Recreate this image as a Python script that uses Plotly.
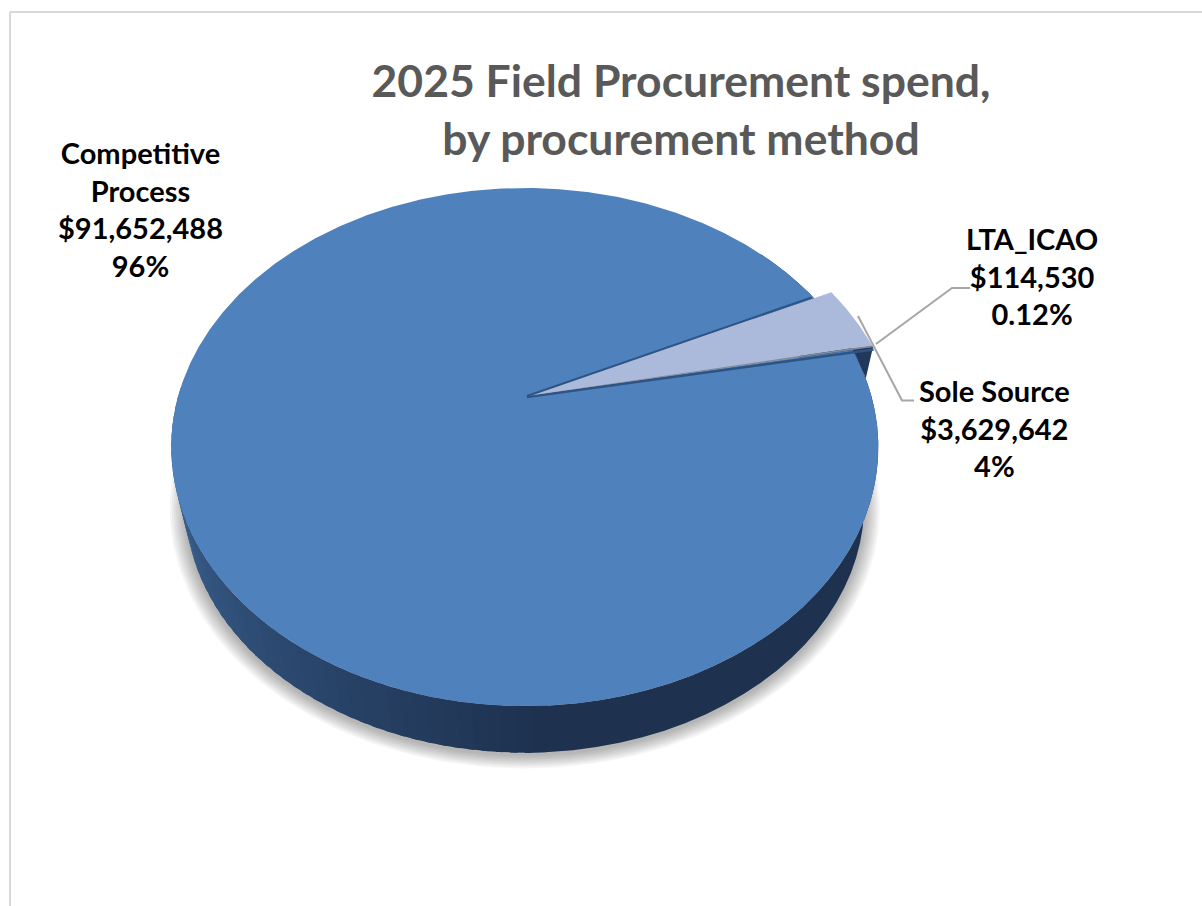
import numpy as np
import plotly.graph_objects as go

# ---- data ----
categories = ["Competitive Process", "Sole Source", "LTA_ICAO"]
spend = [91652488, 3629642, 114530]
amount_labels = ["$91,652,488", "$3,629,642", "$114,530"]
percent_labels = ["96%", "4%", "0.12%"]
title_lines = ["2025 Field Procurement spend,", "by procurement method"]

# ---- look ----
W, H = 1202, 906
CX, CY = 524.8, 396.0      # disc centre on the page
APEX_X = 527.0
A, B, K = 249.0, 346.6, 0.197   # perspective of the pie disc
START_DEG = 25.2           # where the Sole Source slice begins (clockwise)
EXPLODE = 1.065
BLUE, LIGHT, LTA_COL = "#4f81bd", "#abb9da", "#808a9c"
SIDE_LEFT, SIDE_RIGHT = (61, 101, 150), (30, 50, 80)


def proj(r, deg, scale=1.0, dy=0.0):
    t = np.radians(np.asarray(deg, dtype=float))
    u = r * np.sin(t)
    d = 1 + K * u
    return CX + scale * B * r * np.cos(t) / d, CY + dy - scale * A * u / d


def arc(r, a0, a1, n=None, scale=1.0, dy=0.0):
    n = n or max(3, int(abs(a1 - a0) * 2) + 2)
    return proj(r, np.linspace(a0, a1, n), scale, dy)


def wedge(r, a0, a1):
    x, y = arc(r, a0, a1)
    return np.r_[APEX_X, x, APEX_X], np.r_[CY, y, CY]


def poly(x, y, color):
    return go.Scatter(x=list(x), y=list(y), mode="lines", fill="toself", fillcolor=color,
                      line=dict(color=color, width=0), hoverinfo="skip", showlegend=False)


def stroke(x, y, color, width):
    return go.Scatter(x=x, y=y, mode="lines", line=dict(color=color, width=width),
                      hoverinfo="skip", showlegend=False)


sweep = np.array(spend, dtype=float) / sum(spend) * 360
sole_end = START_DEG - sweep[1]
lta_end = sole_end - sweep[2]
comp_end = lta_end - sweep[0]   # equals START_DEG - 360

fig = go.Figure()
LOW_S, LOW_DY = 0.96, 59.0

# soft shadow below the disc
for grow in [16, 14, 12, 10, 8, 6, 4, 2]:
    x, y = arc(1, 0, 360, 361, LOW_S * (1 + grow / 345), LOW_DY + 2)
    fig.add_trace(poly(x, y, "rgba(0,0,0,0.04)"))


def side_band(a0, a1, color):
    xt, yt = arc(1, a0, a1, 40)
    xb, yb = arc(1, a1, a0, 40, LOW_S, LOW_DY)
    return poly(np.r_[xt, xb, xt[0]], np.r_[yt, yb, yt[0]], color)


# side wall: dark part first, then the shaded bands painted so they overlap
fig.add_trace(side_band(270, 400, "rgb(%d,%d,%d)" % SIDE_RIGHT))
band_edges = np.arange(272, 178, -2.0)
for a1 in band_edges:
    a0 = a1 - 2.0
    f = np.clip((a0 - 185) / 85, 0, 1)
    col = tuple(int(SIDE_LEFT[i] + (SIDE_RIGHT[i] - SIDE_LEFT[i]) * f) for i in range(3))
    fig.add_trace(side_band(a0, a1 + 1.0, "rgb(%d,%d,%d)" % col))

# Competitive Process top
x, y = wedge(1, lta_end, comp_end)
fig.add_trace(poly(x, y, BLUE))

# wall seen behind the exploded slices
xb, yb = proj(EXPLODE, lta_end)
xm, ym = arc(1, lta_end - 7, lta_end + 0.5, 10)
fig.add_trace(poly(np.r_[xb, xm, xb], np.r_[yb, ym, yb], "#22385a"))

# dark strip under the lower slice edge
xe, ye = proj(EXPLODE, lta_end - 0.2)
fig.add_trace(stroke([APEX_X, float(xe)], [CY + 1, float(ye) + 1.5], "#2d5484", 2.5))

# Sole Source and LTA_ICAO tops
x, y = wedge(EXPLODE, sole_end, START_DEG)
fig.add_trace(poly(x, y, LIGHT))
x, y = wedge(EXPLODE, lta_end, sole_end)
fig.add_trace(poly(x, y, LTA_COL))

# dark strip along the upper gap edge
xe, ye = proj(0.995, START_DEG + 0.35)
fig.add_trace(stroke([APEX_X, float(xe)], [CY, float(ye)], "#2d5484", 2))

GREY = "#a6a6a6"
shapes = [
    dict(type="line", xref="x", yref="y", x0=10, y0=12, x1=10, y1=H, line=dict(color="#d9d9d9", width=2)),
    dict(type="line", xref="x", yref="y", x0=10, y0=12, x1=W, y1=12, line=dict(color="#d9d9d9", width=2)),
    dict(type="path", xref="x", yref="y", path="M 858 316 L 902 400.5 L 914 400.5", line=dict(color=GREY, width=2)),
    dict(type="path", xref="x", yref="y", path="M 876 344 L 952 288 L 970 288", line=dict(color=GREY, width=2)),
]

LABEL_SIZE = 29


def label(i, name_lines, x, y):
    txt = "<br>".join(name_lines + [amount_labels[i], percent_labels[i]])
    return dict(x=x, y=y, xref="x", yref="y", text=txt, showarrow=False, align="center",
                xanchor="center", yanchor="middle",
                font=dict(family="Lato, Carlito, sans-serif", size=LABEL_SIZE, color="#000000", weight=700))


annotations = [
    label(0, ["Competitive", "Process"], 140, 209),
    label(1, [categories[1]], 994, 428),
    label(2, [categories[2]], 1032, 276),
]

fig.update_layout(
    width=W, height=H, margin=dict(l=0, r=0, t=0, b=0), showlegend=False,
    paper_bgcolor="white", plot_bgcolor="white",
    xaxis=dict(range=[0, W], visible=False, fixedrange=True),
    yaxis=dict(range=[H, 0], visible=False, fixedrange=True),
    shapes=shapes, annotations=annotations,
    title=dict(text="<br>".join(title_lines), x=681 / W, y=1 - 97 / H, xanchor="center", yanchor="middle",
               font=dict(family="Lato, Carlito, sans-serif", size=44.5, color="#595959", weight=700)),
)
fig.write_html("out.html", config=dict(displayModeBar=False),
               post_script="document.body.style.margin='0';document.body.style.overflow='hidden';")
